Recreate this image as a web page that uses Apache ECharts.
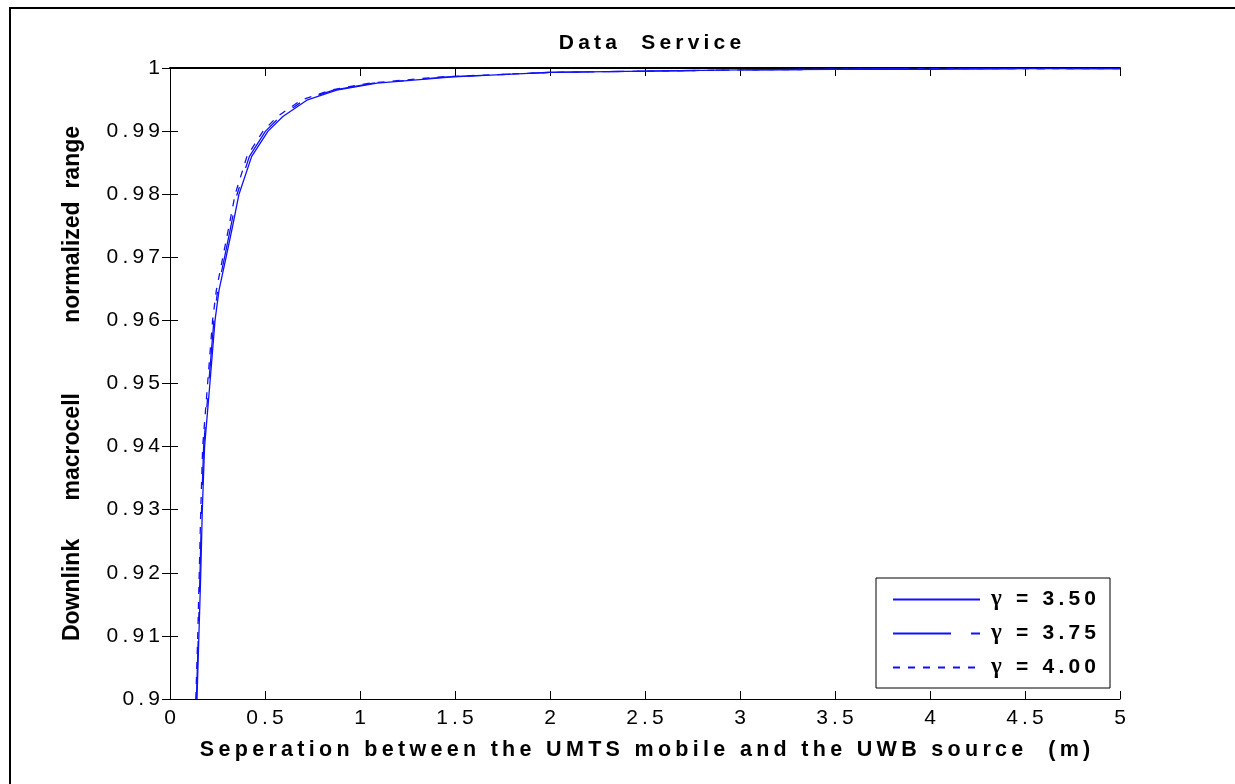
<!DOCTYPE html>
<html>
<head>
<meta charset="utf-8">
<script src="https://cdn.jsdelivr.net/npm/echarts@6/dist/echarts.min.js"></script>
<style>
  html, body { margin: 0; padding: 0; background: #fff; }
  #chart { width: 1235px; height: 784px; }
</style>
</head>
<body>
<div id="chart"></div>
<script>
// separation (m) and downlink normalized range
var sep350 = [0.142, 0.147, 0.152, 0.162, 0.170, 0.182, 0.210, 0.237, 0.258, 0.295, 0.330, 0.363, 0.43, 0.516, 0.594, 0.72, 0.877, 1.09, 1.49, 2.0, 2.5, 3.0, 3.5, 4.0, 4.5, 5.0];
var range350 = [0.900, 0.905, 0.910, 0.920, 0.930, 0.940, 0.950, 0.960, 0.9648, 0.970, 0.975, 0.980, 0.986, 0.990, 0.9923, 0.9949, 0.9965, 0.9976, 0.9986, 0.9993, 0.9995, 0.9997, 0.9998, 0.9998, 0.9999, 0.9999];

var sep375 = [0.139, 0.144, 0.149, 0.158, 0.166, 0.177, 0.204, 0.231, 0.251, 0.287, 0.321, 0.353, 0.418, 0.503, 0.580, 0.705, 0.86, 1.07, 1.46, 2.0, 2.5, 3.0, 3.5, 4.0, 4.5, 5.0];
var range375 = [0.900, 0.905, 0.910, 0.920, 0.930, 0.940, 0.950, 0.960, 0.9648, 0.970, 0.975, 0.980, 0.986, 0.990, 0.9923, 0.9949, 0.9965, 0.9976, 0.9986, 0.9993, 0.9995, 0.9997, 0.9998, 0.9999, 0.9999, 0.9999];

var sep400 = [0.136, 0.141, 0.146, 0.154, 0.162, 0.172, 0.198, 0.224, 0.244, 0.278, 0.311, 0.343, 0.405, 0.49, 0.565, 0.69, 0.845, 1.05, 1.43, 2.0, 2.5, 3.0, 3.5, 4.0, 4.5, 5.0];
var range400 = [0.900, 0.905, 0.910, 0.920, 0.930, 0.940, 0.950, 0.960, 0.9648, 0.970, 0.975, 0.980, 0.986, 0.990, 0.9923, 0.9949, 0.9965, 0.9976, 0.9986, 0.9993, 0.9995, 0.9997, 0.9998, 0.9999, 0.9999, 0.9999];

var seriesNames = ["\u03b3 = 3.50", "\u03b3 = 3.75", "\u03b3 = 4.00"];

function pairs(xs, ys) {
  return xs.map(function (x, i) { return [x, ys[i]]; });
}
// wide letter spacing like the original figure
function spaced(s) {
  return s.split("").join("\u2009");
}

var myChart = echarts.init(document.getElementById("chart"));

var font = "Liberation Sans, Arial, sans-serif";
var blue = "#1010ff";

var option = {
  animation: false,
  backgroundColor: "#fff",
  title: {
    text: spaced("Data  Service"),
    left: 645,
    textAlign: "center",
    top: 28,
    textStyle: { fontFamily: font, fontSize: 21, fontWeight: "bold", color: "#000" }
  },
  legend: {
    orient: "vertical",
    right: 125,
    top: 578,
    data: seriesNames,
    itemWidth: 87,
    itemHeight: 12,
    itemGap: 11,
    padding: [10, 14, 9, 16],
    borderColor: "#000",
    borderWidth: 1,
    backgroundColor: "#fff",
    itemStyle: { opacity: 0 },
    formatter: function (name) {
      return "{g|\u03b3}\u2009" + spaced(name.slice(1));
    },
    textStyle: {
      fontFamily: font, fontSize: 21, fontWeight: "bold", color: "#000", padding: [0, 0, 0, 6],
      rich: {
        g: { fontFamily: "Liberation Serif, DejaVu Serif, serif", fontSize: 23, fontWeight: "bold", color: "#000" }
      }
    }
  },
  grid: { left: 170, right: 115, top: 68, bottom: 85 },
  xAxis: [
    {
      type: "value",
      min: 0,
      max: 5,
      interval: 0.5,
      name: spaced("Seperation between the UMTS mobile and the UWB source  (m)"),
      nameLocation: "middle",
      nameGap: 40,
      nameTextStyle: { fontFamily: font, fontSize: 21.5, fontWeight: "bold", color: "#000" },
      axisLine: { show: true, onZero: false, lineStyle: { color: "#000", width: 1 } },
      axisTick: { show: true, inside: true, length: 8, lineStyle: { color: "#000" } },
      axisLabel: {
        fontFamily: font, fontSize: 21, color: "#000", margin: 9,
        formatter: function (v) { return spaced(String(v)); }
      },
      splitLine: { show: false }
    },
    {
      type: "value",
      position: "top",
      min: 0,
      max: 5,
      interval: 0.5,
      axisLine: { show: true, lineStyle: { color: "#000", width: 2 } },
      axisTick: { show: true, inside: true, length: 8, lineStyle: { color: "#000" } },
      axisLabel: { show: false },
      splitLine: { show: false }
    }
  ],
  yAxis: [
    {
      type: "value",
      min: 0.9,
      max: 1,
      interval: 0.01,
      name: "Downlink      macrocell           normalized  range",
      nameLocation: "middle",
      nameGap: 86,
      nameTextStyle: { fontFamily: font, fontSize: 23, fontWeight: "bold", color: "#000" },
      axisLine: { show: true, onZero: false, lineStyle: { color: "#000", width: 1 } },
      axisTick: { show: true, inside: true, length: 8, lineStyle: { color: "#000" } },
      axisLabel: {
        fontFamily: font, fontSize: 21, color: "#000", margin: 10,
        formatter: function (v) { return spaced(v === 1 ? "1" : v.toFixed(2).replace(/0$/, "")); }
      },
      splitLine: { show: false }
    },
    {
      type: "value",
      position: "right",
      min: 0.9,
      max: 1,
      interval: 0.01,
      axisLine: { show: true, lineStyle: { color: "#000", width: 1 } },
      axisTick: { show: true, inside: true, length: 8, lineStyle: { color: "#000" } },
      axisLabel: { show: false },
      splitLine: { show: false }
    }
  ],
  series: [
    {
      name: seriesNames[0],
      type: "line",
      symbol: "none",
      data: pairs(sep350, range350),
      lineStyle: { color: blue, width: 1.3, type: "solid" },
      itemStyle: { color: blue }
    },
    {
      name: seriesNames[1],
      type: "line",
      symbol: "none",
      data: pairs(sep375, range375),
      lineStyle: { color: blue, width: 1.3, type: [58, 20, 9, 20] },
      itemStyle: { color: blue }
    },
    {
      name: seriesNames[2],
      type: "line",
      symbol: "none",
      data: pairs(sep400, range400),
      lineStyle: { color: blue, width: 1.3, type: [7, 8] },
      itemStyle: { color: blue }
    }
  ],
  graphic: [
    {
      type: "rect",
      shape: { x: 10, y: 8, width: 1240, height: 800 },
      style: { fill: null, stroke: "#000", lineWidth: 2 },
      silent: true
    }
  ]
};

myChart.setOption(option);
</script>
</body>
</html>
